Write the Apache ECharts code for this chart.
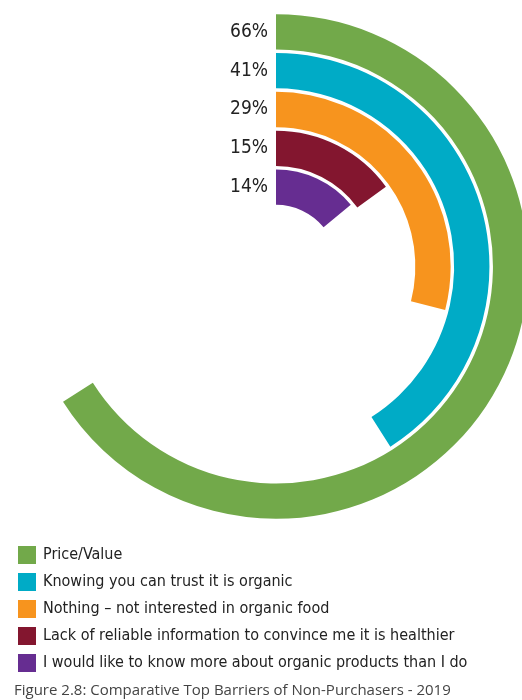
<!DOCTYPE html>
<html>
<head>
<meta charset="utf-8">
<script src="https://cdn.jsdelivr.net/npm/echarts@6/dist/echarts.min.js"></script>
<style>
  html, body { margin: 0; padding: 0; background: #fff; }
  #main { width: 522px; height: 700px; }
</style>
</head>
<body>
<div id="main"></div>
<script>
// inner ring first, outer ring last
const categories = [
  'I would like to know more about organic products than I do',
  'Lack of reliable information to convince me it is healthier',
  'Nothing – not interested in organic food',
  'Knowing you can trust it is organic',
  'Price/Value'
];
const values = [14, 15, 29, 41, 66];
const colors = ['#662d91', '#83162f', '#f7941e', '#00abc6', '#72a94a'];

const narrow = '"Liberation Sans Narrow", "DejaVu Sans Condensed", sans-serif';

const chart = echarts.init(document.getElementById('main'));

// one series per ring so that the legend gets an entry each
const series = categories.map(function (name, i) {
  const data = categories.map(function (c, j) { return j === i ? values[i] : null; });
  return {
    name: name,
    type: 'bar',
    coordinateSystem: 'polar',
    data: data,
    barGap: '-100%',
    barCategoryGap: '9%',
    itemStyle: { color: colors[i] },
    silent: true
  };
});

const option = {
  animation: false,
  title: {
    text: 'Figure 2.8: Comparative Top Barriers of Non-Purchasers - 2019',
    left: 14,
    bottom: 2,
    padding: 0,
    textStyle: {
      fontFamily: '"Open Sans", sans-serif',
      fontWeight: 'normal',
      fontSize: 15,
      color: '#444'
    }
  },
  legend: {
    orient: 'vertical',
    left: 13,
    top: 541,
    itemWidth: 18,
    itemHeight: 18,
    itemGap: 9,
    icon: 'rect',
    data: categories.slice().reverse(),
    textStyle: {
      fontFamily: narrow,
      fontSize: 16,
      color: '#222',
      padding: [0, 0, 0, 2]
    }
  },
  polar: {
    center: [276, 266.5],
    radius: [60, 254]
  },
  angleAxis: {
    type: 'value',
    min: 0,
    max: 100,
    startAngle: 90,
    clockwise: true,
    show: false
  },
  radiusAxis: {
    type: 'category',
    data: categories,
    axisLine: { show: false },
    axisTick: { show: false },
    splitLine: { show: false },
    axisLabel: {
      interval: 0,
      margin: 8,
      fontFamily: narrow,
      fontSize: 19,
      color: '#222',
      formatter: function (v, i) { return values[i] + '%'; }
    }
  },
  series: series
};

chart.setOption(option);
</script>
</body>
</html>
